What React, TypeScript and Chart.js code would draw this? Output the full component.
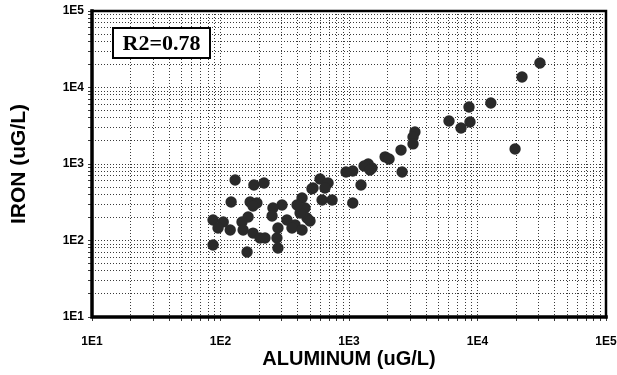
import React, { useEffect, useRef } from "react";
import { Chart, registerables } from "chart.js";

Chart.register(...registerables);

// Aluminum (uG/L) vs Iron (uG/L)
const ALUMINUM = [
  30600, 22200, 12700, 8590, 6000, 8740, 7440, 3260, 3150, 3150,
  19600, 2540, 1910, 2050, 1410, 1510, 1310, 1070, 948, 2590,
  595, 687, 525, 1240, 650, 431, 617, 738, 1070, 455,
  471, 416, 380, 329, 360, 431, 497, 130, 182, 218,
  121, 170, 192, 179, 301, 256, 394, 252, 164, 147,
  87.5, 105, 95.7, 119, 150, 179, 203, 222, 275, 280,
  87.5, 161, 280, 1456, 515,
];
const IRON = [
  20900, 13700, 6270, 5560, 3650, 3540, 2960, 2620, 2250, 1830,
  1570, 1520, 1240, 1160, 1000, 887, 942, 810, 786, 786,
  637, 565, 486, 531, 486, 359, 338, 338, 309, 266,
  197, 229, 160, 185, 146, 137, 180, 618, 531, 565,
  319, 319, 309, 282, 291, 266, 291, 209, 203, 175,
  185, 175, 146, 137, 137, 125, 108, 108, 108, 146,
  87.4, 70.7, 79.8, 835, 475,
];

const DECADES = [10, 100, 1000, 10000, 100000];
const DECADE_LABELS = ["1E1", "1E2", "1E3", "1E4", "1E5"];
const MINOR_MULTIPLES = [2, 3, 4, 5, 6, 7, 8, 9];
const R2_TEXT = "R2=0.78";

function buildTicks() {
  const vals: { value: number }[] = [];
  DECADES.forEach((d, i) => {
    vals.push({ value: d });
    if (i < DECADES.length - 1) MINOR_MULTIPLES.forEach((m) => vals.push({ value: d * m }));
  });
  return vals;
}

function label(v: number) {
  const i = DECADES.indexOf(v);
  return i >= 0 ? DECADE_LABELS[i] : "";
}

const framePlugin = {
  id: "frame",
  afterDatasetsDraw(chart: any) {
    const { ctx, chartArea: a } = chart;
    ctx.save();
    ctx.strokeStyle = "#000";
    ctx.lineCap = "square";
    ctx.lineWidth = 2.5;
    ctx.beginPath();
    ctx.moveTo(a.left, a.top);
    ctx.lineTo(a.right, a.top);
    ctx.lineTo(a.right, a.bottom);
    ctx.stroke();
    ctx.lineWidth = 3.5;
    ctx.beginPath();
    ctx.moveTo(a.left, a.top);
    ctx.lineTo(a.left, a.bottom);
    ctx.lineTo(a.right, a.bottom);
    ctx.stroke();
    // R2 box
    const bx = a.left + 21, by = a.top + 17, bw = 97, bh = 30;
    ctx.fillStyle = "#fff";
    ctx.fillRect(bx, by, bw, bh);
    ctx.lineWidth = 2;
    ctx.strokeRect(bx, by, bw, bh);
    ctx.fillStyle = "#000";
    ctx.font = "bold 22px 'Liberation Serif', 'DejaVu Serif', serif";
    ctx.textAlign = "center";
    ctx.textBaseline = "middle";
    ctx.fillText(R2_TEXT, bx + bw / 2, by + bh / 2 + 1);
    ctx.restore();
  },
};

export default function App() {
  const ref = useRef<HTMLCanvasElement>(null);
  useEffect(() => {
    document.body.style.margin = "0";
    const tickFont = { family: "'Liberation Sans', Arial, sans-serif", size: 12, weight: "bold" as const };
    const titleFont = { family: "'Liberation Sans', Arial, sans-serif", size: 20, weight: "bold" as const };
    const grid = {
      color: "#3a3a3a",
      lineWidth: 1,
      drawTicks: true,
      tickLength: 4,
      tickColor: "#3a3a3a",
    };
    const chart = new Chart(ref.current!, {
      type: "scatter",
      data: {
        datasets: [
          {
            data: ALUMINUM.map((x, i) => ({ x, y: IRON[i] })),
            backgroundColor: "#2a2a2a",
            borderColor: "#2a2a2a",
            borderWidth: 0,
            pointRadius: 5.7,
          },
        ],
      },
      options: {
        responsive: false,
        animation: false,
        layout: { padding: { top: 11, right: 11, left: 0, bottom: 0 } },
        plugins: { legend: { display: false }, tooltip: { enabled: false } },
        scales: {
          x: {
            type: "logarithmic",
            min: 10,
            max: 100000,
            afterBuildTicks: (s: any) => { s.ticks = buildTicks(); },
            afterFit: (s: any) => { s.height = 58; s.paddingLeft = 0; s.paddingRight = 0; },
            grid,
            border: { display: false, dash: [1, 2] },
            ticks: {
              autoSkip: false,
              maxRotation: 0,
              padding: 13,
              color: "#000",
              font: tickFont,
              callback: (v: any) => label(Number(v)),
            },
            title: {
              display: true,
              text: "ALUMINUM (uG/L)",
              color: "#000",
              font: titleFont,
              padding: { top: 0, bottom: 4 },
            },
          },
          y: {
            type: "logarithmic",
            min: 10,
            max: 100000,
            afterBuildTicks: (s: any) => { s.ticks = buildTicks(); },
            afterFit: (s: any) => { s.width = 92; s.paddingTop = 0; s.paddingBottom = 0; },
            grid,
            border: { display: false, dash: [1, 2] },
            ticks: {
              autoSkip: false,
              padding: 4,
              color: "#000",
              font: tickFont,
              callback: (v: any) => label(Number(v)),
            },
            title: {
              display: true,
              text: "IRON (uG/L)",
              color: "#000",
              font: { ...titleFont, size: 21 },
              padding: { top: 7, bottom: 0 },
            },
          },
        },
      },
      plugins: [framePlugin],
    });
    return () => chart.destroy();
  }, []);
  return <canvas ref={ref} width={617} height={375} style={{ display: "block" }} />;
}
